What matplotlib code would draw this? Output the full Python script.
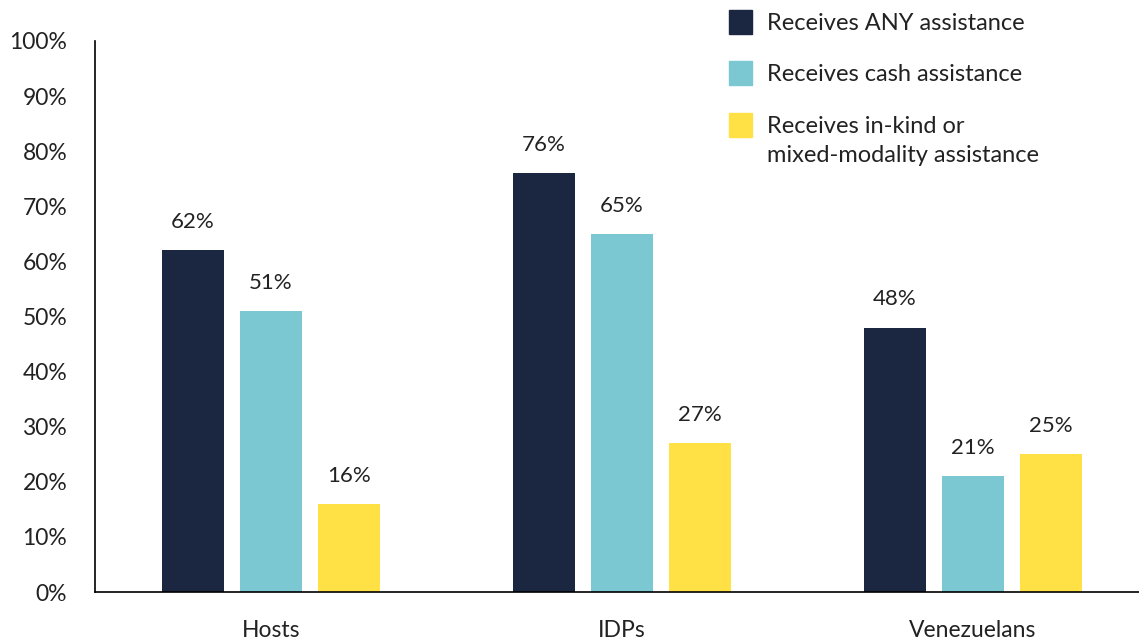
import numpy as np
import matplotlib
matplotlib.use("Agg")
import matplotlib.pyplot as plt
from matplotlib.patches import Rectangle

# data
groups = ["Hosts", "IDPs", "Venezuelans"]
any_assist = [62, 76, 48]
cash_assist = [51, 65, 21]
inkind_assist = [16, 27, 25]
series_names = ["Receives ANY assistance",
                "Receives cash assistance",
                "Receives in-kind or\nmixed-modality assistance"]
colors = ["#1b2640", "#7cc8d2", "#ffe045"]
yticks = list(range(0, 101, 10))

plt.rcParams["font.family"] = ["Lato", "DejaVu Sans"]
text_color = "#222222"

fig = plt.figure(figsize=(11.39, 6.43), dpi=100)
ax = fig.add_axes([0.0834, 0.0793, 0.9166, 0.857])

x = np.arange(len(groups))
offset = 0.222
width = 0.177
all_series = [any_assist, cash_assist, inkind_assist]
for k, vals in enumerate(all_series):
    bars = ax.bar(x + (k - 1) * offset, vals, width, color=colors[k], zorder=2)
    for b, v in zip(bars, vals):
        ax.annotate(f"{v}%", (b.get_x() + b.get_width() / 2, b.get_height()),
                    xytext=(0, 13), textcoords="offset points",
                    ha="center", va="bottom", fontsize=16, color=text_color)

ax.set_xlim(-0.501, 2.473)
ax.set_ylim(0, 100)
ax.set_yticks(yticks)
ax.set_yticklabels([f"{t}%" for t in yticks])
ax.set_xticks(x)
ax.set_xticklabels(groups)
ax.tick_params(axis="both", length=0, labelsize=16.5, colors=text_color)
ax.tick_params(axis="y", pad=20)
ax.tick_params(axis="x", pad=20)
for s in ["top", "right"]:
    ax.spines[s].set_visible(False)
for s in ["left", "bottom"]:
    ax.spines[s].set_color("black")
    ax.spines[s].set_linewidth(1.2)

# legend drawn by hand so the yellow box lines up with first text line
row_y = [22, 73, 125]
for k in range(3):
    y_top = row_y[k] - 11.5
    fig.patches.append(Rectangle((729 / 1139, 1 - (y_top + 23) / 643), 23 / 1139, 23 / 643,
                                 transform=fig.transFigure, color=colors[k]))
    fig.text(767 / 1139, 1 - (row_y[k] - 9) / 643, series_names[k], ha="left", va="top",
             fontsize=17, color=text_color, linespacing=1.45)

fig.savefig("out.png", dpi=100)
